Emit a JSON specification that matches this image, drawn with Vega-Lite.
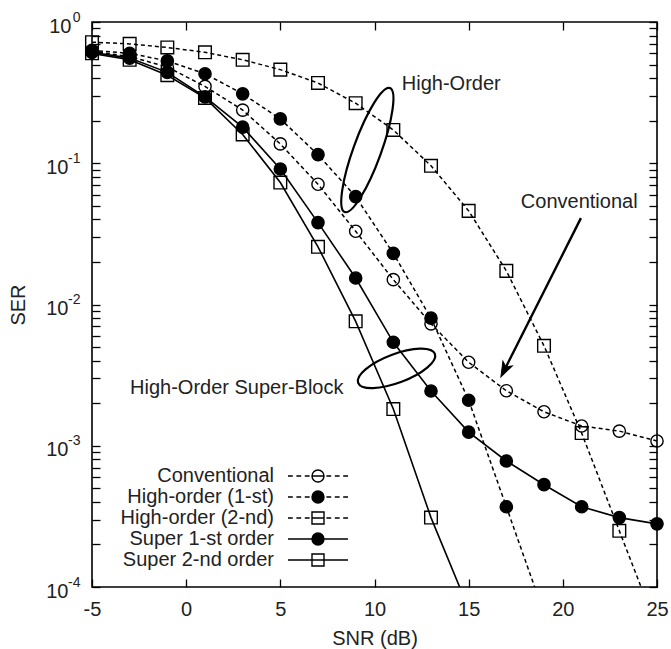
{
  "$schema": "https://vega.github.io/schema/vega-lite/v6.json",
  "width": 565,
  "height": 565,
  "autosize": "none",
  "padding": {"left": 92, "top": 22, "right": 14, "bottom": 62},
  "background": "white",
  "config": {
    "font": "Liberation Sans",
    "view": {"stroke": "black", "strokeWidth": 1.6},
    "axis": {
      "grid": false,
      "domain": false,
      "tickColor": "black",
      "tickWidth": 1.3,
      "labelColor": "#222222",
      "labelFontSize": 20,
      "titleColor": "#222222",
      "titleFontSize": 20,
      "titleFontWeight": "normal"
    }
  },
  "datasets": {
    "curves": [
      {"series": "Conventional", "snr": -5, "ser": 0.62},
      {"series": "Conventional", "snr": -3, "ser": 0.57},
      {"series": "Conventional", "snr": -1, "ser": 0.48},
      {"series": "Conventional", "snr": 1, "ser": 0.35},
      {"series": "Conventional", "snr": 3, "ser": 0.238},
      {"series": "Conventional", "snr": 5, "ser": 0.137},
      {"series": "Conventional", "snr": 7, "ser": 0.071},
      {"series": "Conventional", "snr": 9, "ser": 0.033},
      {"series": "Conventional", "snr": 11, "ser": 0.015},
      {"series": "Conventional", "snr": 13, "ser": 0.0073},
      {"series": "Conventional", "snr": 15, "ser": 0.0039},
      {"series": "Conventional", "snr": 17, "ser": 0.00245},
      {"series": "Conventional", "snr": 19, "ser": 0.00174},
      {"series": "Conventional", "snr": 21, "ser": 0.00138},
      {"series": "Conventional", "snr": 23, "ser": 0.00127},
      {"series": "Conventional", "snr": 25, "ser": 0.00108},
      {"series": "High-order (1-st)", "snr": -5, "ser": 0.63},
      {"series": "High-order (1-st)", "snr": -3, "ser": 0.6},
      {"series": "High-order (1-st)", "snr": -1, "ser": 0.53},
      {"series": "High-order (1-st)", "snr": 1, "ser": 0.43},
      {"series": "High-order (1-st)", "snr": 3, "ser": 0.31},
      {"series": "High-order (1-st)", "snr": 5, "ser": 0.206},
      {"series": "High-order (1-st)", "snr": 7, "ser": 0.115},
      {"series": "High-order (1-st)", "snr": 9, "ser": 0.058},
      {"series": "High-order (1-st)", "snr": 11, "ser": 0.023},
      {"series": "High-order (1-st)", "snr": 13, "ser": 0.008},
      {"series": "High-order (1-st)", "snr": 15, "ser": 0.0021},
      {"series": "High-order (1-st)", "snr": 17, "ser": 0.00037},
      {"series": "High-order (1-st)", "snr": 19, "ser": 0.000065},
      {"series": "High-order (2-nd)", "snr": -5, "ser": 0.72},
      {"series": "High-order (2-nd)", "snr": -3, "ser": 0.7},
      {"series": "High-order (2-nd)", "snr": -1, "ser": 0.66},
      {"series": "High-order (2-nd)", "snr": 1, "ser": 0.61},
      {"series": "High-order (2-nd)", "snr": 3, "ser": 0.54},
      {"series": "High-order (2-nd)", "snr": 5, "ser": 0.46},
      {"series": "High-order (2-nd)", "snr": 7, "ser": 0.37},
      {"series": "High-order (2-nd)", "snr": 9, "ser": 0.266},
      {"series": "High-order (2-nd)", "snr": 11, "ser": 0.172},
      {"series": "High-order (2-nd)", "snr": 13, "ser": 0.096},
      {"series": "High-order (2-nd)", "snr": 15, "ser": 0.046},
      {"series": "High-order (2-nd)", "snr": 17, "ser": 0.0173},
      {"series": "High-order (2-nd)", "snr": 19, "ser": 0.0051},
      {"series": "High-order (2-nd)", "snr": 21, "ser": 0.00123},
      {"series": "High-order (2-nd)", "snr": 23, "ser": 0.00025},
      {"series": "High-order (2-nd)", "snr": 25, "ser": 0.000051},
      {"series": "Super 1-st order", "snr": -5, "ser": 0.61},
      {"series": "Super 1-st order", "snr": -3, "ser": 0.555},
      {"series": "Super 1-st order", "snr": -1, "ser": 0.44},
      {"series": "Super 1-st order", "snr": 1, "ser": 0.295},
      {"series": "Super 1-st order", "snr": 3, "ser": 0.18},
      {"series": "Super 1-st order", "snr": 5, "ser": 0.091},
      {"series": "Super 1-st order", "snr": 7, "ser": 0.038},
      {"series": "Super 1-st order", "snr": 9, "ser": 0.0154},
      {"series": "Super 1-st order", "snr": 11, "ser": 0.0054},
      {"series": "Super 1-st order", "snr": 13, "ser": 0.00244},
      {"series": "Super 1-st order", "snr": 15, "ser": 0.00125},
      {"series": "Super 1-st order", "snr": 17, "ser": 0.00078},
      {"series": "Super 1-st order", "snr": 19, "ser": 0.00053},
      {"series": "Super 1-st order", "snr": 21, "ser": 0.00037},
      {"series": "Super 1-st order", "snr": 23, "ser": 0.00031},
      {"series": "Super 1-st order", "snr": 25, "ser": 0.00028},
      {"series": "Super 2-nd order", "snr": -5, "ser": 0.6},
      {"series": "Super 2-nd order", "snr": -3, "ser": 0.54},
      {"series": "Super 2-nd order", "snr": -1, "ser": 0.42},
      {"series": "Super 2-nd order", "snr": 1, "ser": 0.29},
      {"series": "Super 2-nd order", "snr": 3, "ser": 0.16},
      {"series": "Super 2-nd order", "snr": 5, "ser": 0.073},
      {"series": "Super 2-nd order", "snr": 7, "ser": 0.0256},
      {"series": "Super 2-nd order", "snr": 9, "ser": 0.0076},
      {"series": "Super 2-nd order", "snr": 11, "ser": 0.00182},
      {"series": "Super 2-nd order", "snr": 13, "ser": 0.00031},
      {"series": "Super 2-nd order", "snr": 15, "ser": 0.00007}
    ],
    "labels": [
      {"snr": 11.45, "ser": 0.364, "label": "High-Order"},
      {"snr": 17.77, "ser": 0.0532, "label": "Conventional"},
      {"snr": -2.98, "ser": 0.00256, "label": "High-Order Super-Block"}
    ]
  },
  "layer": [
    {
      "data": {"name": "curves"},
      "transform": [{"filter": "indexof(datum.series, 'Super') < 0"}],
      "mark": {"type": "line", "clip": true, "stroke": "black", "strokeWidth": 1.5, "strokeDash": [4, 3]},
      "encoding": {
        "detail": {"field": "series", "type": "nominal"},
        "x": {
          "field": "snr", "type": "quantitative",
          "scale": {"domain": [-5, 25], "nice": false, "zero": false},
          "axis": {
            "orient": "bottom", "title": "SNR (dB)",
            "values": [-5, 0, 5, 10, 15, 20, 25],
            "tickSize": -8, "labelPadding": 20, "labelFlush": false,
            "labelExpr": "datum.value + ''", "titlePadding": 9
          }
        },
        "y": {
          "field": "ser", "type": "quantitative",
          "scale": {"type": "log", "domain": [0.0001, 1], "nice": false},
          "axis": {
            "orient": "left", "title": "SER",
            "values": [0.0001, 0.0002, 0.0003, 0.0004, 0.0005, 0.0006, 0.0007, 0.0008, 0.0009, 0.001, 0.002, 0.003, 0.004, 0.005, 0.006, 0.007, 0.008, 0.009, 0.01, 0.02, 0.03, 0.04, 0.05, 0.06, 0.07, 0.08, 0.09, 0.1, 0.2, 0.3, 0.4, 0.5, 0.6, 0.7, 0.8, 0.9, 1],
            "tickSize": -8, "labelPadding": 32, "labelOverlap": false, "labelFlush": false,
            "labelBaseline": "alphabetic", "labelOffset": 10,
            "labelExpr": "abs(log(datum.value)/LN10 - round(log(datum.value)/LN10)) < 0.001 && datum.value < 0.5 ? '10' : ''",
            "titlePadding": 17,
            "encode": {
              "ticks": {
                "x2": {"condition": {"test": "abs(log(datum.value)/LN10 - round(log(datum.value)/LN10)) < 0.001", "value": 8}, "value": 4.5}
              }
            }
          }
        }
      }
    },
    {
      "data": {"name": "curves"},
      "transform": [{"filter": "indexof(datum.series, 'Super') >= 0"}],
      "mark": {"type": "line", "clip": true, "stroke": "black", "strokeWidth": 1.6},
      "encoding": {
        "detail": {"field": "series", "type": "nominal"},
        "x": {"field": "snr", "type": "quantitative", "scale": {"domain": [-5, 25], "nice": false, "zero": false}, "axis": null},
        "y": {"field": "ser", "type": "quantitative", "scale": {"type": "log", "domain": [0.0001, 1], "nice": false}, "axis": null}
      }
    },
    {
      "data": {"name": "curves"},
      "transform": [{"filter": "datum.series === 'Conventional'"}],
      "mark": {"type": "point", "shape": "circle", "filled": false, "stroke": "black", "strokeWidth": 1.4, "size": 150, "opacity": 1},
      "encoding": {
        "x": {
          "field": "snr", "type": "quantitative",
          "scale": {"domain": [-5, 25], "nice": false, "zero": false},
          "axis": {"orient": "top", "title": null, "labels": false, "values": [-5, 0, 5, 10, 15, 20, 25], "tickSize": -8}
        },
        "y": {
          "field": "ser", "type": "quantitative",
          "scale": {"type": "log", "domain": [0.0001, 1], "nice": false},
          "axis": {
            "orient": "right", "title": null, "labels": false,
            "values": [0.0001, 0.0002, 0.0003, 0.0004, 0.0005, 0.0006, 0.0007, 0.0008, 0.0009, 0.001, 0.002, 0.003, 0.004, 0.005, 0.006, 0.007, 0.008, 0.009, 0.01, 0.02, 0.03, 0.04, 0.05, 0.06, 0.07, 0.08, 0.09, 0.1, 0.2, 0.3, 0.4, 0.5, 0.6, 0.7, 0.8, 0.9, 1],
            "tickSize": -8,
            "encode": {
              "ticks": {
                "x2": {"condition": {"test": "abs(log(datum.value)/LN10 - round(log(datum.value)/LN10)) < 0.001", "value": -8}, "value": -4.5}
              }
            }
          }
        }
      }
    },
    {
      "data": {"name": "curves"},
      "transform": [{"filter": "(datum.series === 'High-order (1-st)' || datum.series === 'Super 1-st order') && datum.ser >= 0.0001"}],
      "mark": {"type": "point", "shape": "circle", "filled": true, "fill": "black", "stroke": "black", "strokeWidth": 1.4, "size": 150, "opacity": 1},
      "encoding": {
        "x": {"field": "snr", "type": "quantitative", "scale": {"domain": [-5, 25], "nice": false, "zero": false}, "axis": null},
        "y": {"field": "ser", "type": "quantitative", "scale": {"type": "log", "domain": [0.0001, 1], "nice": false}, "axis": null}
      }
    },
    {
      "data": {"name": "curves"},
      "transform": [{"filter": "(datum.series === 'High-order (2-nd)' || datum.series === 'Super 2-nd order') && datum.ser >= 0.0001"}],
      "mark": {"type": "point", "shape": "square", "filled": false, "stroke": "black", "strokeWidth": 1.4, "size": 160, "opacity": 1},
      "encoding": {
        "x": {"field": "snr", "type": "quantitative", "scale": {"domain": [-5, 25], "nice": false, "zero": false}, "axis": null},
        "y": {"field": "ser", "type": "quantitative", "scale": {"type": "log", "domain": [0.0001, 1], "nice": false}, "axis": null}
      }
    },
    {
      "data": {"name": "curves"},
      "transform": [{"filter": "datum.snr === -5"}],
      "mark": {"type": "point", "filled": false, "strokeWidth": 1.4, "opacity": 0},
      "encoding": {
        "x": {"field": "snr", "type": "quantitative", "scale": {"domain": [-5, 25], "nice": false, "zero": false}, "axis": null},
        "y": {"field": "ser", "type": "quantitative", "scale": {"type": "log", "domain": [0.0001, 1], "nice": false}, "axis": null},
        "shape": {
          "field": "series", "type": "nominal",
          "scale": {
            "domain": ["Conventional", "High-order (1-st)", "High-order (2-nd)", "Super 1-st order", "Super 2-nd order"],
            "range": [
              "M-5,0L-4.2,0M-3.6,0L-2.8,0M-2.2,0L-1.4,0M-1,0L1,0M1.4,0L2.2,0M2.8,0L3.6,0M4.2,0L5,0M-1,0A1,1,0,1,1,1,0A1,1,0,1,1,-1,0Z",
              "M-5,0L-4.2,0M-3.6,0L-2.8,0M-2.2,0L-1.4,0M-1,0L1,0M1.4,0L2.2,0M2.8,0L3.6,0M4.2,0L5,0M-1,0A1,1,0,1,1,1,0A1,1,0,1,1,-1,0Z",
              "M-5,0L-4.2,0M-3.6,0L-2.8,0M-2.2,0L-1.4,0M-1,0L1,0M1.4,0L2.2,0M2.8,0L3.6,0M4.2,0L5,0M-1,-1L1,-1L1,1L-1,1Z",
              "M-5,0L5,0M-1,0A1,1,0,1,1,1,0A1,1,0,1,1,-1,0Z",
              "M-5,0L5,0M-1,-1L1,-1L1,1L-1,1Z"
            ]
          },
          "legend": {
            "title": null, "orient": "none", "legendX": 216, "legendY": 444, "padding": 0,
            "symbolSize": 144, "symbolOffset": 0, "labelOffset": -54, "labelAlign": "right",
            "symbolOpacity": 1, "symbolStrokeWidth": 1.4,
            "labelFontSize": 20, "labelColor": "#222222", "labelLimit": 400, "rowPadding": 1
          }
        },
        "fill": {
          "field": "series", "type": "nominal",
          "scale": {
            "domain": ["Conventional", "High-order (1-st)", "High-order (2-nd)", "Super 1-st order", "Super 2-nd order"],
            "range": ["transparent", "black", "transparent", "black", "transparent"]
          }
        },
        "stroke": {
          "field": "series", "type": "nominal",
          "scale": {
            "domain": ["Conventional", "High-order (1-st)", "High-order (2-nd)", "Super 1-st order", "Super 2-nd order"],
            "range": ["black", "black", "black", "black", "black"]
          }
        }
      }
    },
    {
      "data": {"values": [{"snr": 9.62, "ser": 0.124}]},
      "mark": {"type": "point", "shape": "M-1,0A1,0.21,0,1,1,1,0A1,0.21,0,1,1,-1,0", "size": 17424, "angle": 290, "filled": false, "stroke": "black", "strokeWidth": 2.2, "opacity": 1},
      "encoding": {
        "x": {"field": "snr", "type": "quantitative", "scale": {"domain": [-5, 25], "nice": false, "zero": false}, "axis": null},
        "y": {
          "field": "ser", "type": "quantitative",
          "scale": {"type": "log", "domain": [0.0001, 1], "nice": false},
          "axis": {
            "orient": "left", "title": null, "ticks": false, "domain": false,
            "values": [0.0001, 0.001, 0.01, 0.1, 1],
            "labelPadding": 12, "labelFontSize": 14, "labelAlign": "right",
            "labelBaseline": "alphabetic", "labelOffset": -1, "labelOverlap": false, "labelFlush": false,
            "labelExpr": "'' + round(log(datum.value)/LN10)"
          }
        }
      }
    },
    {
      "data": {"values": [{"snr": 11.17, "ser": 0.00353}]},
      "mark": {"type": "point", "shape": "M-1,0A1,0.35,0,1,1,1,0A1,0.35,0,1,1,-1,0", "size": 6724, "angle": 339.4, "filled": false, "stroke": "black", "strokeWidth": 2.2, "opacity": 1},
      "encoding": {
        "x": {"field": "snr", "type": "quantitative", "scale": {"domain": [-5, 25], "nice": false, "zero": false}, "axis": null},
        "y": {
          "field": "ser", "type": "quantitative",
          "scale": {"type": "log", "domain": [0.0001, 1], "nice": false},
          "axis": {
            "orient": "left", "title": null, "ticks": false, "domain": false,
            "values": [1],
            "labelPadding": 21, "labelAlign": "right",
            "labelBaseline": "alphabetic", "labelOffset": 10, "labelOverlap": false, "labelFlush": false,
            "labelExpr": "'10'"
          }
        }
      }
    },
    {
      "data": {"values": [{"snr": 20.96, "ser": 0.0409, "snr2": 16.9, "ser2": 0.00344}]},
      "mark": {"type": "rule", "stroke": "black", "strokeWidth": 2.4},
      "encoding": {
        "x": {"field": "snr", "type": "quantitative", "scale": {"domain": [-5, 25], "nice": false, "zero": false}, "axis": null},
        "y": {"field": "ser", "type": "quantitative", "scale": {"type": "log", "domain": [0.0001, 1], "nice": false}, "axis": null},
        "x2": {"field": "snr2"},
        "y2": {"field": "ser2"}
      }
    },
    {
      "data": {"values": [{"snr": 16.71, "ser": 0.00307}]},
      "mark": {"type": "point", "shape": "M0,0L-0.7,-2L0,-1.5L0.7,-2Z", "size": 225, "angle": 26.7, "filled": true, "fill": "black", "stroke": "black", "strokeWidth": 1, "opacity": 1},
      "encoding": {
        "x": {"field": "snr", "type": "quantitative", "scale": {"domain": [-5, 25], "nice": false, "zero": false}, "axis": null},
        "y": {"field": "ser", "type": "quantitative", "scale": {"type": "log", "domain": [0.0001, 1], "nice": false}, "axis": null}
      }
    },
    {
      "data": {"name": "labels"},
      "mark": {"type": "text", "align": "left", "baseline": "middle", "fontSize": 20, "fill": "#222222"},
      "encoding": {
        "x": {"field": "snr", "type": "quantitative", "scale": {"domain": [-5, 25], "nice": false, "zero": false}, "axis": null},
        "y": {"field": "ser", "type": "quantitative", "scale": {"type": "log", "domain": [0.0001, 1], "nice": false}, "axis": null},
        "text": {"field": "label"}
      }
    }
  ],
  "resolve": {"axis": {"x": "independent", "y": "independent"}}
}
